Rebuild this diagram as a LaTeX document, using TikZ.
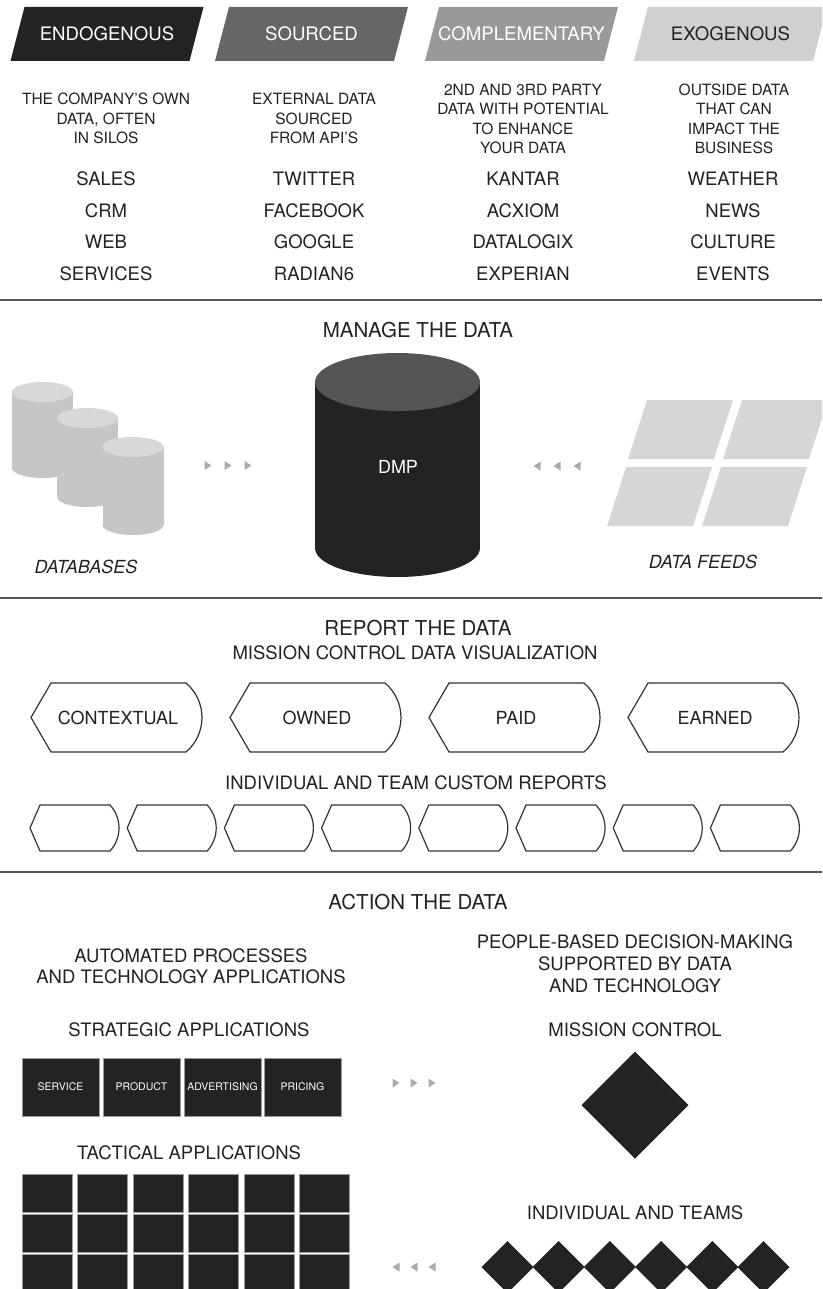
\documentclass[tikz,border=0pt]{standalone}
\usepackage{fontspec}
\setmainfont{TeX Gyre Heros}

\definecolor{ink}{HTML}{222222}
\definecolor{bandA}{HTML}{232323}
\definecolor{bandB}{HTML}{666666}
\definecolor{bandC}{HTML}{999999}
\definecolor{bandD}{HTML}{D0D0D0}
\definecolor{rulegray}{HTML}{555555}
\definecolor{dbbody}{HTML}{C6C6C6}
\definecolor{dbtop}{HTML}{D8D8D8}
\definecolor{dmptop}{HTML}{555555}
\definecolor{feed}{HTML}{D6D6D6}
\definecolor{tick}{HTML}{AAAAAA}
\definecolor{edge}{HTML}{333333}
\definecolor{boxedge}{HTML}{9A9A9A}

\begin{document}
\begin{tikzpicture}[x=1pt,y=-1pt,
  bandtext/.style={font=\fontsize{18.6}{22}\selectfont, inner sep=0pt, anchor=base, yshift=-6.7pt},
  % multi-line blocks are placed by the baseline of their last line
  desc/.style={font=\fontsize{15.5}{19.5}\selectfont, align=center, text=ink, inner sep=0pt, anchor=base, yshift=-5.6pt},
  item/.style={font=\fontsize{18.5}{22}\selectfont, text=ink, inner sep=0pt, anchor=base, yshift=-6.6pt},
  sectitle/.style={font=\fontsize{20.5}{24}\selectfont, text=ink, inner sep=0pt, anchor=base, yshift=-7.4pt},
  subhead/.style={font=\fontsize{18.5}{21.5}\selectfont, align=center, text=ink, inner sep=0pt, anchor=base, yshift=-6.6pt},
  caption/.style={font=\fontsize{18}{22}\selectfont\itshape, text=ink, inner sep=0pt, anchor=base, yshift=-6.5pt},
  hexlabel/.style={font=\fontsize{18}{22}\selectfont, text=ink, inner sep=0pt, anchor=base, yshift=-6.5pt},
  hexline/.style={draw=edge, line width=1.2pt, fill=white, line join=miter},
  sep/.style={draw=rulegray, line width=2pt},
  tri/.style={fill=tick},
  appbox/.style={draw=boxedge, line width=0.8pt, fill=bandA, text=white, inner sep=0pt,
    minimum width=77pt, minimum height=58pt, font=\fontsize{10.5}{12}\selectfont},
  tacbox/.style={draw=boxedge, line width=0.8pt, fill=bandA, inner sep=0pt,
    minimum width=50pt, minimum height=38pt},
]
\useasboundingbox (0,0) rectangle (822,1289);
\clip (0,0) rectangle (822,1289);

% ---------- four data-source banners ----------
\foreach \bx/\lab/\fc/\tc [count=\k] in {10.5/ENDOGENOUS/bandA/white, 215/SOURCED/bandB/white,
    425/COMPLEMENTARY/bandC/white, 634/EXOGENOUS/bandD/ink} {
  \fill[\fc] (\bx,61) -- ++(179,0) -- ++(14,-54) -- ++(-179,0) -- cycle;
  \node[bandtext, text=\tc] (band\k) at (\bx+96.5,34) {\lab};
}

% ---------- descriptions ----------
\node[desc] (desc1) at (106,138) {THE COMPANY'S OWN\\DATA, OFTEN\\IN SILOS};
\node[desc] (desc2) at (314,138) {EXTERNAL DATA\\SOURCED\\FROM API'S};
\node[desc] (desc3) at (523,148) {2ND AND 3RD PARTY\\DATA WITH POTENTIAL\\TO ENHANCE\\YOUR DATA};
\node[desc] (desc4) at (734,148) {OUTSIDE DATA\\THAT CAN\\IMPACT THE\\BUSINESS};

% ---------- source lists ----------
\foreach \x/\a/\b/\c/\d [count=\k] in {106/SALES/CRM/WEB/SERVICES,
    314/TWITTER/FACEBOOK/GOOGLE/RADIAN6,
    523/KANTAR/ACXIOM/DATALOGIX/EXPERIAN,
    733/WEATHER/NEWS/CULTURE/EVENTS} {
  \node[item] (src\k-1) at (\x,179) {\a};
  \node[item] (src\k-2) at (\x,210.5) {\b};
  \node[item] (src\k-3) at (\x,242) {\c};
  \node[item] (src\k-4) at (\x,273.5) {\d};
}

\draw[sep] (0,300) -- (822,300);

% ---------- manage the data ----------
\node[sectitle] (manage) at (418,330) {MANAGE THE DATA};

% stacked databases
\foreach \cx/\yt/\yb in {42.5/392/468, 87.5/418/497, 133/447/525} {
  \fill[dbbody] (\cx-30.5,\yt) rectangle (\cx+30.5,\yb);
  \fill[dbbody] (\cx,\yb) ellipse [x radius=30.5pt, y radius=10pt];
  \fill[dbtop] (\cx,\yt) ellipse [x radius=30.5pt, y radius=10pt];
}
\node[caption] (databases) at (86,567) {DATABASES};

% DMP cylinder
\fill[bandA] (315,382) rectangle (480,548);
\fill[bandA] (397.5,548) ellipse [x radius=82.5pt, y radius=29pt];
\fill[dmptop] (397.5,382) ellipse [x radius=82.5pt, y radius=29pt];
\node[hexlabel, text=white] (dmp) at (398,467) {DMP};

% flow marks
\foreach \x in {208,228,248}
  \fill[tri] (\x-3.5,461) -- (\x+3.5,465.5) -- (\x-3.5,470) -- cycle;
\foreach \x in {537,557,577}
  \fill[tri] (\x+3.5,461.5) -- (\x-3.5,466) -- (\x+3.5,470.5) -- cycle;

% data feed tiles
\foreach \x/\y in {647/400, 742/400, 626/467, 721/467}
  \fill[feed] (\x,\y) -- ++(86,0) -- ++(-19,59) -- ++(-86,0) -- cycle;
\node[caption] (feeds) at (703,562) {DATA FEEDS};

\draw[sep] (0,598) -- (822,598);

% ---------- report the data ----------
\node[sectitle] (report) at (418,628) {REPORT THE DATA};
\node[item] (mcviz) at (415,653) {MISSION CONTROL DATA VISUALIZATION};

\foreach \lab [count=\i from 0] in {CONTEXTUAL,OWNED,PAID,EARNED} {
  \begin{scope}[shift={(31+199*\i,717.5)}]
    \path[hexline] (0,0) -- (20,-34.5) -- (155,-34.5)
      .. controls (176.3,-16.45) and (176.3,16.45) .. (155,34.5) -- (20,34.5) -- cycle;
    \node[hexlabel] (view\i) at (87,0) {\lab};
  \end{scope}
}

\node[item] (custom) at (416,783) {INDIVIDUAL AND TEAM CUSTOM REPORTS};

\foreach \i in {0,...,7} {
  \begin{scope}[shift={(30+97.2*\i,828)}]
    \path[hexline] (0,0) -- (10,-23) -- (80,-23)
      .. controls (92,-10) and (92,10) .. (80,23) -- (10,23) -- cycle;
  \end{scope}
}

\draw[sep] (0,872) -- (822,872);

% ---------- action the data ----------
\node[sectitle] (action) at (418,902) {ACTION THE DATA};
\node[subhead] (auto) at (191,977) {AUTOMATED PROCESSES\\AND TECHNOLOGY APPLICATIONS};
\node[subhead, font=\fontsize{18.5}{22}\selectfont] (people) at (635,986) {PEOPLE-BASED DECISION-MAKING\\SUPPORTED BY DATA\\AND TECHNOLOGY};
\node[subhead] (strategic) at (189,1030) {STRATEGIC APPLICATIONS};
\node[subhead] (mission) at (635,1030) {MISSION CONTROL};

\foreach \x/\lab [count=\k] in {22/SERVICE,103/PRODUCT,184/ADVERTISING,264/PRICING}
  \node[appbox] (app\k) at (\x+38.5,1087) {\lab};

\foreach \x in {396,414,432}
  \fill[tri] (\x-3.5,1078.5) -- (\x+3.5,1083) -- (\x-3.5,1087.5) -- cycle;

\fill[bandA] (635,1051.5) -- (688.5,1105) -- (635,1158.5) -- (581.5,1105) -- cycle;

\node[subhead] (tactical) at (189,1153) {TACTICAL APPLICATIONS};
\foreach \x [count=\c] in {22,77.5,133,188.5,244,299.5}
  \foreach \y [count=\r] in {1174,1214,1254}
    \node[tacbox] (tac\r-\c) at (\x+25,\y+19) {};

\node[subhead] (teams) at (635,1213) {INDIVIDUAL AND TEAMS};
\foreach \i in {0,...,5}
  \fill[bandA, shift={(507.5+51.2*\i,1267)}] (0,-26) -- (26,0) -- (0,26) -- (-26,0) -- cycle;

\foreach \x in {396,414,432}
  \fill[tri] (\x+3.5,1262.5) -- (\x-3.5,1267) -- (\x+3.5,1271.5) -- cycle;
\end{tikzpicture}
\end{document}
